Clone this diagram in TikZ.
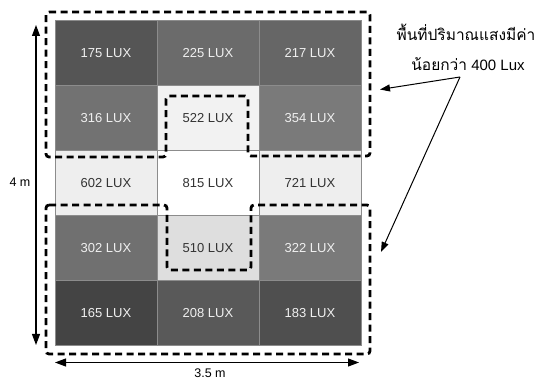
\documentclass[tikz,border=0pt]{standalone}
\usepackage{fontspec}
\setmainfont{Liberation Sans}
\newfontfamily\thaifont[Script=Thai]{Loma}
\usetikzlibrary{arrows.meta}
\definecolor{c175}{HTML}{555555}
\definecolor{c225}{HTML}{6B6B6B}
\definecolor{c217}{HTML}{666666}
\definecolor{c316}{HTML}{727272}
\definecolor{c522}{HTML}{F2F2F2}
\definecolor{c354}{HTML}{7A7A7A}
\definecolor{c602}{HTML}{EEEEEE}
\definecolor{c815}{HTML}{FFFFFF}
\definecolor{c721}{HTML}{EEEEEE}
\definecolor{c302}{HTML}{707070}
\definecolor{c510}{HTML}{DEDEDE}
\definecolor{c322}{HTML}{7A7A7A}
\definecolor{c165}{HTML}{444444}
\definecolor{c208}{HTML}{595959}
\definecolor{c183}{HTML}{4F4F4F}
\tikzset{
  cell/.style={minimum width=102pt, minimum height=64.9pt, inner sep=0pt, draw=black!45, line width=0.4pt, font=\fontsize{13}{15}\selectfont},
  darkcell/.style={cell, text=white!94!black},
  lightcell/.style={cell, text=black!80},
  region/.style={draw=black, line width=2.8pt, dash pattern=on 7pt off 4.5pt, rounded corners=3pt},
  dimarrow/.style={line width=1.1pt, {Triangle[length=11pt,width=8pt]}-{Triangle[length=11pt,width=8pt]}},
  notearrow/.style={line width=1pt, -{Triangle[length=10pt,width=7pt]}},
  lbl/.style={font=\fontsize{12.5}{14}\selectfont, inner sep=1pt},
}
\begin{document}
\begin{tikzpicture}[x=1pt,y=-1pt]
\useasboundingbox (0,0) rectangle (547,379);
% grid cells
\node[darkcell, fill=c175] (r1c1) at (106,52.95) {175 LUX};
\node[darkcell, fill=c225] (r1c2) at (208,52.95) {225 LUX};
\node[darkcell, fill=c217] (r1c3) at (310,52.95) {217 LUX};
\node[darkcell, fill=c316] (r2c1) at (106,117.85) {316 LUX};
\node[lightcell, fill=c522] (r2c2) at (208,117.85) {522 LUX};
\node[darkcell, fill=c354] (r2c3) at (310,117.85) {354 LUX};
\node[lightcell, fill=c602] (r3c1) at (106,182.75) {602 LUX};
\node[lightcell, fill=c815] (r3c2) at (208,182.75) {815 LUX};
\node[lightcell, fill=c721] (r3c3) at (310,182.75) {721 LUX};
\node[darkcell, fill=c302] (r4c1) at (106,247.65) {302 LUX};
\node[lightcell, fill=c510] (r4c2) at (208,247.65) {510 LUX};
\node[darkcell, fill=c322] (r4c3) at (310,247.65) {322 LUX};
\node[darkcell, fill=c165] (r5c1) at (106,312.55) {165 LUX};
\node[darkcell, fill=c208] (r5c2) at (208,312.55) {208 LUX};
\node[darkcell, fill=c183] (r5c3) at (310,312.55) {183 LUX};
% dashed regions
\draw[region] (46,12) -- (370,12) -- (370,156) -- (248,156) -- (248,96) -- (166,96) -- (166,157) -- (46,157) -- cycle;
\draw[region] (46,205) -- (167,205) -- (167,270) -- (251,270) -- (251,205) -- (370,205) -- (370,354) -- (46,354) -- cycle;
% dimensions
\coordinate (vtop) at (36,25);
\coordinate (vbot) at (36,345);
\draw[dimarrow] (vbot) -- (vtop);
\node[lbl] (h) at (20,182) {4 m};
\coordinate (hl) at (55,362.5);
\coordinate (hr) at (359,362.5);
\draw[dimarrow] (hl) -- (hr);
\node[lbl] (w) at (210,373) {3.5 m};
% annotation
\node[inner sep=1pt, font=\thaifont\fontsize{15.5}{18}\selectfont] (note1) at (466,32) {พื้นที่ปริมาณแสงมีค่า};
\node[inner sep=1pt, font=\fontsize{15}{18}\selectfont] (note2) at (468,64) {{\thaifont\fontsize{15.5}{18}\selectfont น้อยกว่า} 400 Lux};
\coordinate (src) at (460,77);
\coordinate (t1) at (380,89.5);
\coordinate (t2) at (381,252);
\draw[notearrow] (src) -- (t1);
\draw[notearrow] (src) -- (t2);
\end{tikzpicture}
\end{document}
